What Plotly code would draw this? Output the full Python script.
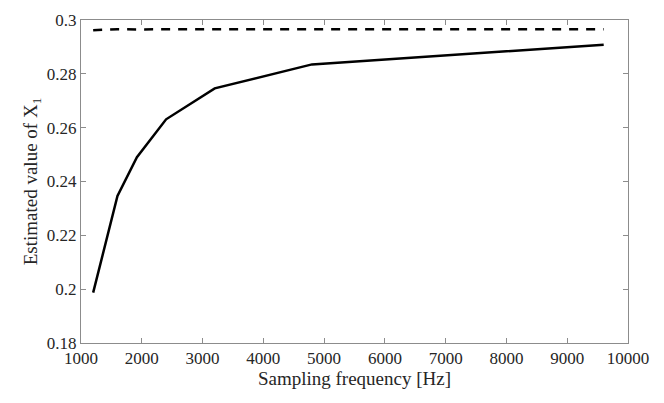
import plotly.graph_objects as go

# sampling frequencies [Hz]
freq = [1200, 1600, 1920, 2400, 3200, 4800, 9600]
# estimated X1 values
x1_estimated = [0.1987, 0.2346, 0.2490, 0.2631, 0.2746, 0.2835, 0.2908]
x1_reference = [0.2962, 0.2966, 0.2965, 0.2966, 0.2966, 0.2966, 0.2966]

x_ticks = [1000, 2000, 3000, 4000, 5000, 6000, 7000, 8000, 9000, 10000]
y_ticks = [0.18, 0.2, 0.22, 0.24, 0.26, 0.28, 0.3]

fig = go.Figure()
fig.add_trace(go.Scatter(x=freq, y=x1_estimated, mode='lines',
                         line=dict(color='black', width=2.5)))
fig.add_trace(go.Scatter(x=freq, y=x1_reference, mode='lines',
                         line=dict(color='black', width=2.5, dash='9px,8px')))

axis_style = dict(showline=True, linecolor='#8c8c8c', linewidth=1, mirror='ticks',
                  ticks='inside', ticklen=5, tickcolor='#8c8c8c', showgrid=False,
                  zeroline=False, automargin=False,
                  tickfont=dict(family='Liberation Serif', size=17, color='#262626'))

# page body adds an 8px offset, so the figure is a bit smaller than the window
fig.update_layout(
    width=656, height=395,
    margin=dict(l=73, r=36, t=12, b=60),
    plot_bgcolor='white', paper_bgcolor='white',
    showlegend=False,
    font=dict(family='Liberation Serif', color='#262626'),
)
fig.update_xaxes(range=[1000, 10000], tickvals=x_ticks, tickformat='d',
                 title=dict(text='Sampling frequency [Hz]', font=dict(size=19), standoff=2),
                 **axis_style)
fig.update_yaxes(range=[0.18, 0.3], tickvals=y_ticks,
                 title=dict(text='Estimated value of X<sub>1</sub>', font=dict(size=19), standoff=4),
                 **axis_style)

fig.write_html("out.html")
